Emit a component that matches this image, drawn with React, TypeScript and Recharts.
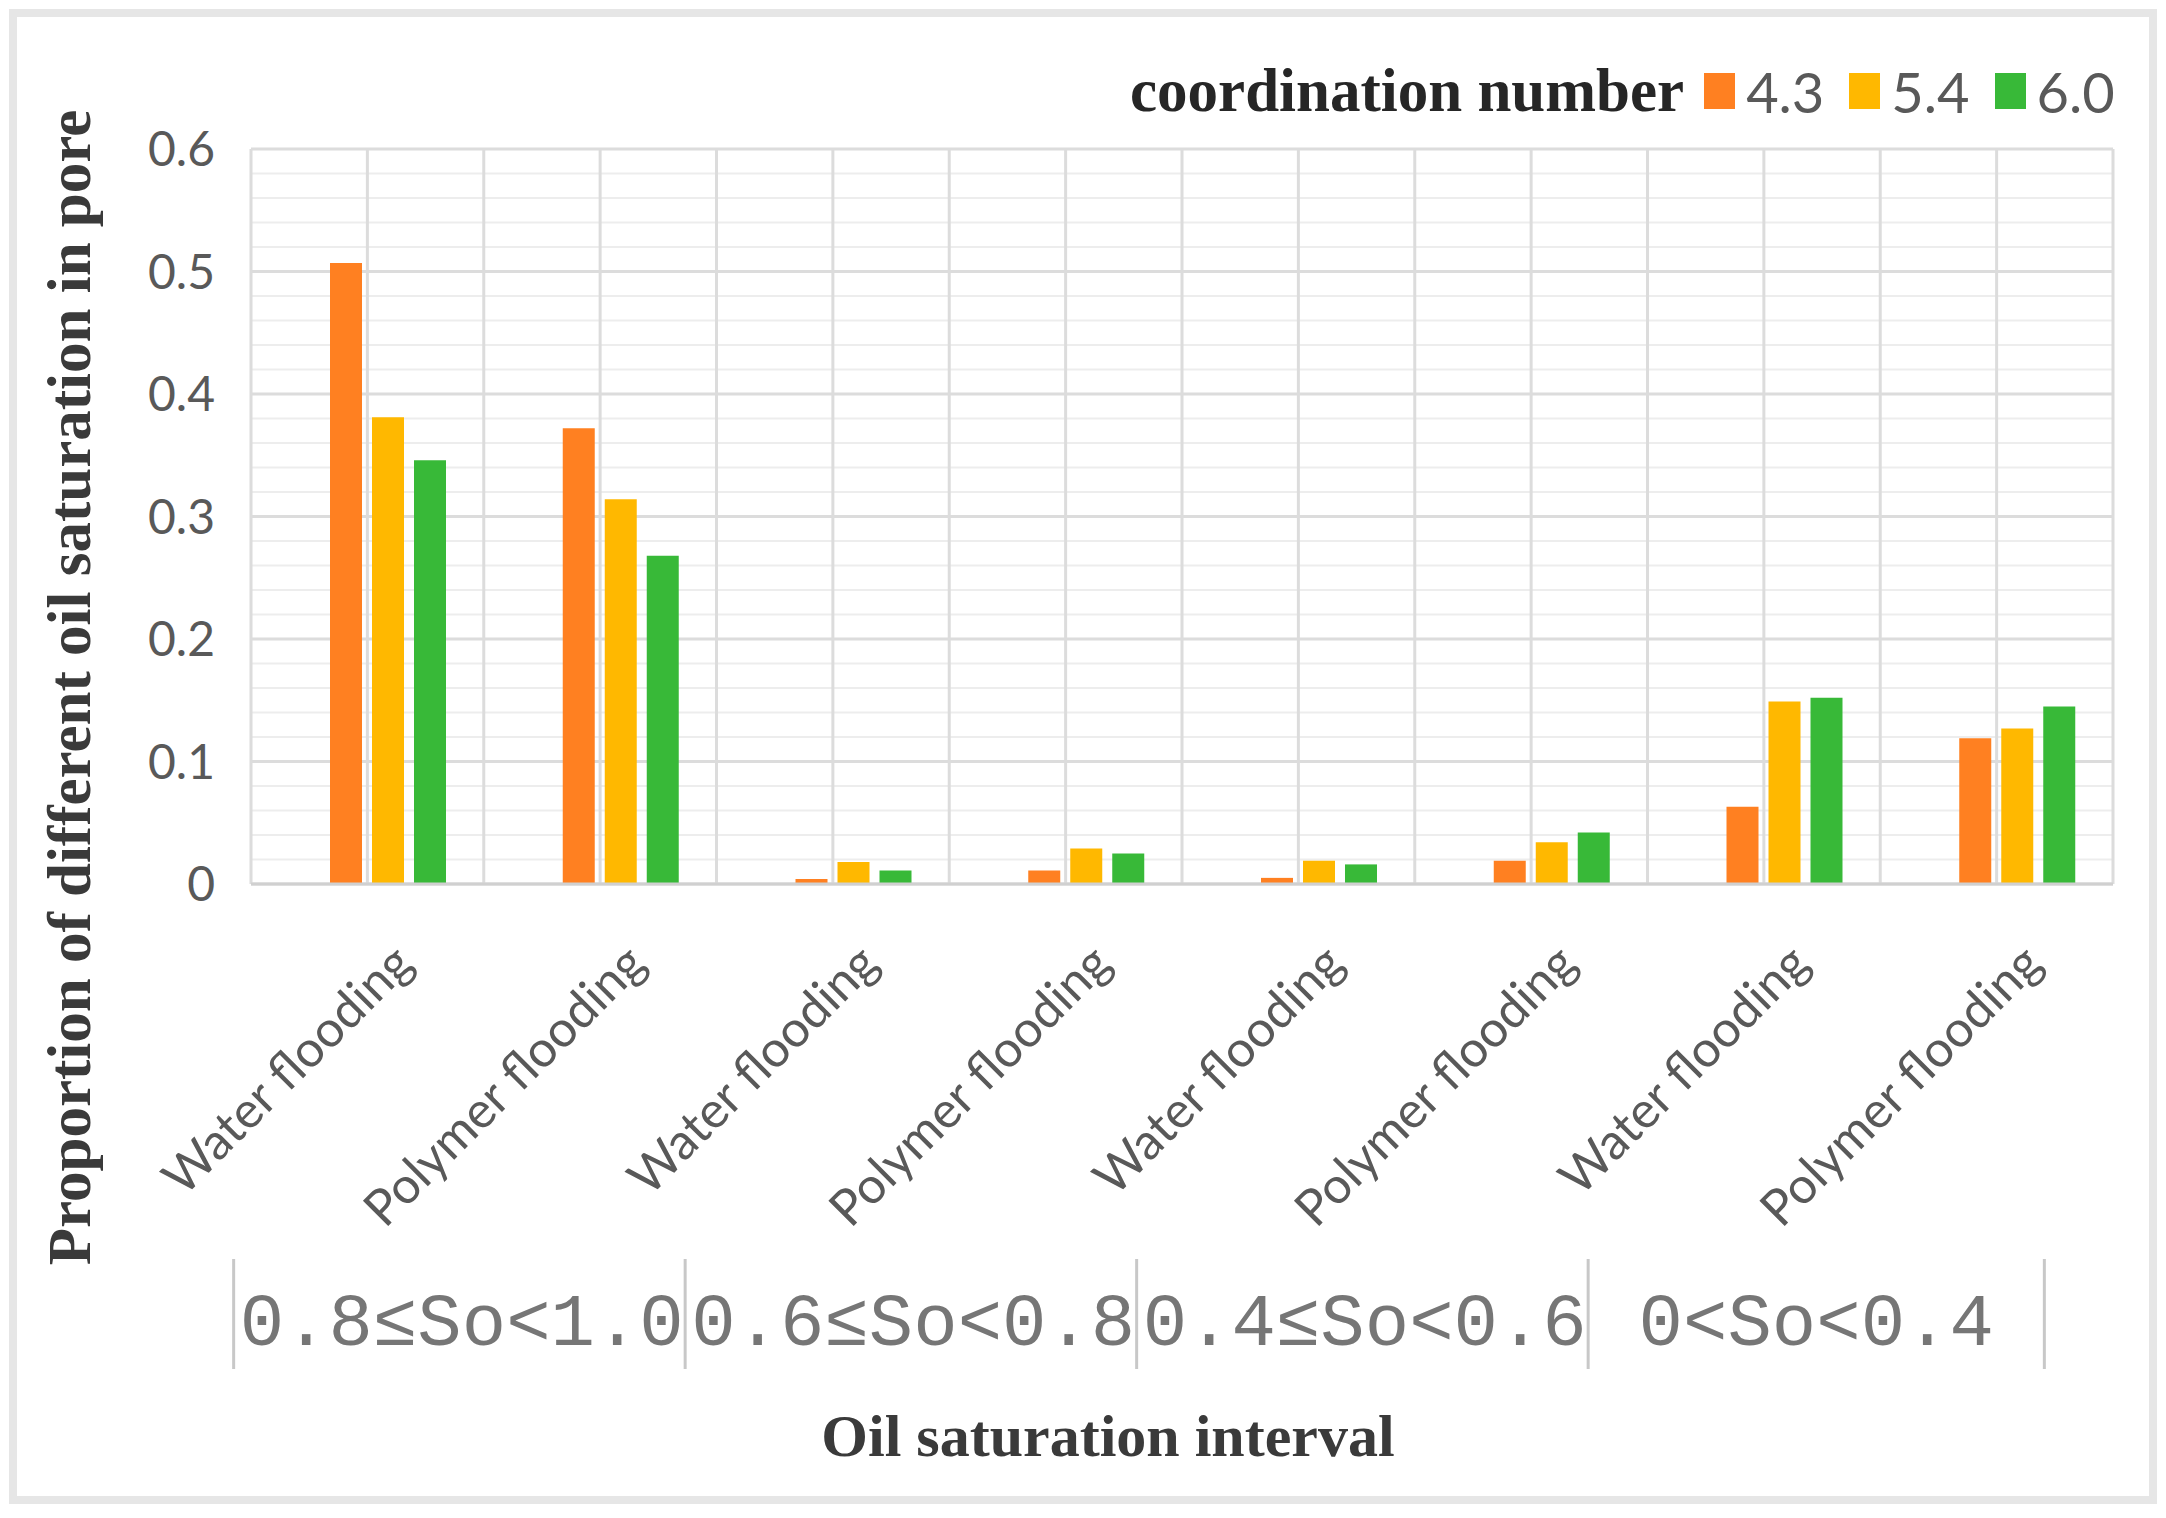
import React from 'react';
import { BarChart, Bar, XAxis, YAxis, CartesianGrid, Legend } from 'recharts';

document.body.style.margin = '0';

const W = 2166;
const H = 1518;
const MARGIN = { top: 149, right: 53, bottom: 114, left: 0 };
const Y_AXIS_W = 251;

const methods = [
  'Water flooding', 'Polymer flooding',
  'Water flooding', 'Polymer flooding',
  'Water flooding', 'Polymer flooding',
  'Water flooding', 'Polymer flooding',
];
const groups = ['0.8≤So<1.0', '0.6≤So<0.8', '0.4≤So<0.6', '0<So<0.4'];
const groupOfRow = [0, 0, 1, 1, 2, 2, 3, 3];

const cn43 = [0.507, 0.372, 0.004, 0.011, 0.005, 0.019, 0.063, 0.119];
const cn54 = [0.381, 0.314, 0.018, 0.029, 0.019, 0.034, 0.149, 0.127];
const cn60 = [0.346, 0.268, 0.011, 0.025, 0.016, 0.042, 0.152, 0.145];

const yTicks = [0, 0.1, 0.2, 0.3, 0.4, 0.5, 0.6];
const minorTicks = Array.from({ length: 31 }, (_, i) => i * 0.02);

const series = [
  { key: 'cn', name: 'coordination number', color: 'transparent' },
  { key: 'cn43', name: '4.3', color: '#FF8021' },
  { key: 'cn54', name: '5.4', color: '#FFB800' },
  { key: 'cn60', name: '6.0', color: '#38B938' },
];

const data = methods.map((m, i) => ({
  method: m,
  group: groups[groupOfRow[i]],
  cn43: cn43[i],
  cn54: cn54[i],
  cn60: cn60[i],
}));

const TICK_COLOR = '#595959';
const SANS = 'Lato, "Liberation Sans", sans-serif';
const SERIF = '"Liberation Serif", "DejaVu Serif", serif';

const plotW = W - MARGIN.right - Y_AXIS_W;
const groupW = plotW / groups.length;

const MethodTick = (props: any) => {
  const { x, y, payload } = props;
  const tx = x + 48;
  const ty = y + 80;
  return (
    <text
      x={tx}
      y={ty}
      textAnchor="end"
      transform={`rotate(-45 ${tx} ${ty})`}
      fontFamily={SANS}
      fontSize={50}
      fill={TICK_COLOR}
    >
      {payload.value}
    </text>
  );
};

const GroupTick = (props: any) => {
  const { x, y, payload } = props;
  const i = groups.indexOf(payload.value);
  const cx = x - 22 - 14 * i;
  const half = groupW * 0.49;
  return (
    <g>
      <line x1={cx - half} x2={cx - half} y1={y + 13} y2={y + 123} stroke="#c8c8c8" strokeWidth={3} />
      {i === groups.length - 1 && (
        <line x1={cx + half} x2={cx + half} y1={y + 13} y2={y + 123} stroke="#c8c8c8" strokeWidth={3} />
      )}
      <text
        x={cx}
        y={y + 99}
        textAnchor="middle"
        fontFamily='"Liberation Mono", "DejaVu Sans Mono", monospace'
        fontSize={74}
        fill="#767676"
      >
        {payload.value}
      </text>
    </g>
  );
};

const renderYTitle = (props: any) => {
  const vb = props.viewBox || { x: 0, y: MARGIN.top, height: 735 };
  const cx = vb.x + 90;
  const cy = vb.y + vb.height / 2 + 171;
  return (
    <text
      x={cx}
      y={cy}
      textAnchor="middle"
      transform={`rotate(-90 ${cx} ${cy})`}
      fontFamily={SERIF}
      fontWeight="bold"
      fontSize={61}
      fill="#3a3a3a"
    >
      Proportion of different oil saturation in pore
    </text>
  );
};

const renderXTitle = (props: any) => {
  const vb = props.viewBox || { x: Y_AXIS_W, y: 1244, width: plotW };
  const cx = vb.x + vb.width / 2 - 74;
  const cy = vb.y + 212;
  return (
    <text x={cx} y={cy} textAnchor="middle" fontFamily={SERIF} fontWeight="bold" fontSize={60} fill="#3a3a3a">
      Oil saturation interval
    </text>
  );
};

const renderLegend = () => (
  <div style={{ display: 'flex', alignItems: 'center', whiteSpace: 'nowrap' }}>
    {series.map((s, i) =>
      i === 0 ? (
        <span
          key={s.key}
          style={{ fontFamily: SERIF, fontWeight: 'bold', fontSize: 61, color: '#262626', marginRight: 20 }}
        >
          {s.name}
        </span>
      ) : (
        <span key={s.key} style={{ display: 'flex', alignItems: 'center', marginRight: i < series.length - 1 ? 25 : 0 }}>
          <span style={{ display: 'inline-block', width: 31, height: 36, background: s.color, marginRight: 11 }} />
          <span style={{ fontFamily: SANS, fontSize: 56, color: TICK_COLOR }}>{s.name}</span>
        </span>
      )
    )}
  </div>
);

const App: React.FC = () => {
  return (
    <div style={{ position: 'relative', width: W, height: H, background: '#fff' }}>
      <div
        style={{
          position: 'absolute',
          left: 9,
          top: 9,
          width: 2148,
          height: 1495,
          border: '8px solid #e6e6e6',
          boxSizing: 'border-box',
        }}
      />
      <div style={{ position: 'absolute', left: 0, top: 0 }}>
        <BarChart width={W} height={H} data={data} margin={MARGIN} barSize={32} barGap={10}>
          <CartesianGrid
            vertical={false}
            stroke="#ededed"
            strokeWidth={2}
            horizontalCoordinatesGenerator={({ offset }: any) =>
              minorTicks.map((v) => offset.top + offset.height * (1 - v / 0.6))
            }
          />
          <CartesianGrid
            stroke="#dcdcdc"
            strokeWidth={3}
            verticalCoordinatesGenerator={({ offset }: any) =>
              Array.from({ length: methods.length * 2 + 1 }, (_, i) => offset.left + (i * offset.width) / (methods.length * 2))
            }
          />
          <XAxis
            dataKey="method"
            interval={0}
            height={360}
            tickLine={false}
            tickSize={0}
            axisLine={{ stroke: '#d0d0d0', strokeWidth: 3 }}
            tick={<MethodTick />}
          />
          <XAxis
            xAxisId="grp"
            dataKey="group"
            allowDuplicatedCategory={false}
            interval={0}
            height={160}
            tickLine={false}
            tickSize={0}
            axisLine={false}
            tick={<GroupTick />}
            label={renderXTitle}
          />
          <YAxis
            width={Y_AXIS_W}
            domain={[0, 0.6]}
            ticks={yTicks}
            axisLine={false}
            tickLine={false}
            tickSize={0}
            tickMargin={36}
            tick={{ fontFamily: SANS, fontSize: 48, fill: TICK_COLOR }}
            label={renderYTitle}
          />
          <Legend
            layout="vertical"
            align="center"
            verticalAlign="middle"
            content={renderLegend}
            wrapperStyle={{ top: 56, left: 1130, width: 'auto' }}
          />
          {series.map((s) => (
            <Bar key={s.key} dataKey={s.key} name={s.name} fill={s.color} isAnimationActive={false} />
          ))}
        </BarChart>
      </div>
    </div>
  );
};

export default App;
